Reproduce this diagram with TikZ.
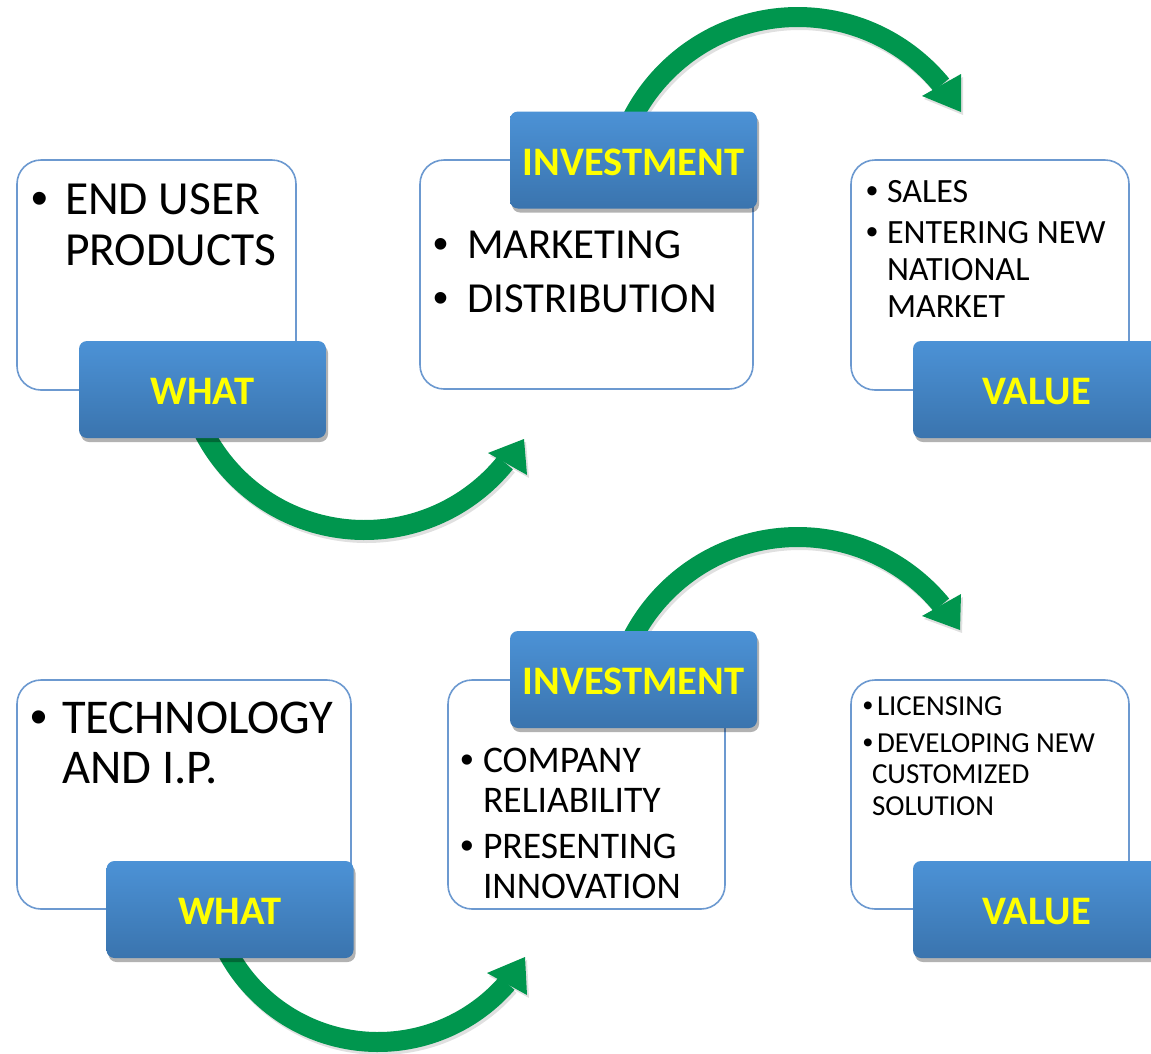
\documentclass[tikz,border=0pt]{standalone}
\usepackage{fontspec}
\setmainfont{Carlito}
\newfontfamily\bulletfont{Liberation Sans}
\usetikzlibrary{shadows}
\definecolor{boxline}{RGB}{108,153,208}
\definecolor{labtop}{RGB}{76,146,214}
\definecolor{labbot}{RGB}{58,116,174}
\definecolor{arrowgreen}{RGB}{0,150,78}
\definecolor{labtext}{RGB}{255,255,0}
\newcommand{\fsA}{\fontsize{47.5pt}{56pt}\selectfont}
\newcommand{\fsAA}{\fontsize{48.5pt}{56pt}\selectfont}
\newcommand{\fsB}{\fontsize{42.8pt}{50pt}\selectfont}
\newcommand{\fsC}{\fontsize{34pt}{40pt}\selectfont}
\newcommand{\fsD}{\fontsize{37.6pt}{44pt}\selectfont}
\newcommand{\fsE}{\fontsize{29pt}{35pt}\selectfont}
\begin{document}
\begin{tikzpicture}[x=1pt,y=-1pt,
  infobox/.style={draw=boxline, line width=1.6pt, fill=white, rounded corners=24pt,
    inner sep=0pt, outer sep=0pt},
  labelbox/.style={rounded corners=8pt, top color=labtop, bottom color=labbot,
    inner sep=0pt, outer sep=0pt, minimum width=247pt, minimum height=97pt, text=labtext,
    font=\fontsize{40.5pt}{48pt}\selectfont\bfseries, text height=30pt, text depth=0pt,
    drop shadow={shadow xshift=2pt, shadow yshift=-4pt, opacity=0.3, fill=black}},
  txt/.style={anchor=base west, inner sep=0pt, outer sep=0pt},
  bul/.style={anchor=base, inner sep=0pt, outer sep=0pt},
  band/.style={draw=arrowgreen, line width=20pt},
  bandshadow/.style={draw=black, opacity=0.12, line width=20pt},
  head/.style={fill=arrowgreen},
  headshadow/.style={fill=black, opacity=0.12}
]
\useasboundingbox (0,0) rectangle (1151,1053);
\fill[white] (0,0) rectangle (1151,1053);

% ---------- white info boxes ----------
\node[infobox, minimum width=279pt, minimum height=230pt] (w1) at (156.5,275) {};
\node[infobox, minimum width=333pt, minimum height=229pt] (w2) at (586.5,274.5) {};
\node[infobox, minimum width=278pt, minimum height=230pt] (w3) at (990,275) {};
\node[infobox, minimum width=334pt, minimum height=229pt] (w4) at (184,794.5) {};
\node[infobox, minimum width=277pt, minimum height=229pt] (w5) at (586.5,794.5) {};
\node[infobox, minimum width=278pt, minimum height=229pt] (w6) at (990,794.5) {};

% ---------- texts ----------
\node[bul, font=\fsA\bulletfont] (b1a) at (40,214) {•};
\node[txt, font=\fsA] (t1a) at (65,214) {END USER};
\node[txt, font=\fsA] (t1b) at (65,265) {PRODUCTS};

\node[bul, font=\fsB\bulletfont] (b2a) at (441,258) {•};
\node[txt, font=\fsB] (t2a) at (467,258) {MARKETING};
\node[bul, font=\fsB\bulletfont] (b2b) at (441,312) {•};
\node[txt, font=\fsB] (t2b) at (467,312) {DISTRIBUTION};

\node[bul, font=\fsC\bulletfont] (b3a) at (872,202) {•};
\node[txt, font=\fsC] (t3a) at (887,202) {SALES};
\node[bul, font=\fsC\bulletfont] (b3b) at (872,243) {•};
\node[txt, font=\fsC] (t3b) at (887,243) {ENTERING NEW};
\node[txt, font=\fsC] (t3c) at (887,280) {NATIONAL};
\node[txt, font=\fsC] (t3d) at (887,317) {MARKET};

\node[bul, font=\fsAA\bulletfont] (b4a) at (39,733) {•};
\node[txt, font=\fsAA] (t4a) at (62,733) {TECHNOLOGY};
\node[txt, font=\fsAA] (t4b) at (62,783) {AND I.P.};

\node[bul, font=\fsD\bulletfont] (b5a) at (467,772) {•};
\node[txt, font=\fsD] (t5a) at (483,772) {COMPANY};
\node[txt, font=\fsD] (t5b) at (483,812) {RELIABILITY};
\node[bul, font=\fsD\bulletfont] (b5b) at (467,858) {•};
\node[txt, font=\fsD] (t5c) at (483,858) {PRESENTING};
\node[txt, font=\fsD] (t5d) at (483,898) {INNOVATION};

\node[bul, font=\fsE\bulletfont] (b6a) at (868,715) {•};
\node[txt, font=\fsE] (t6a) at (877,715) {LICENSING};
\node[bul, font=\fsE\bulletfont] (b6b) at (868,752) {•};
\node[txt, font=\fsE] (t6b) at (877,752) {DEVELOPING NEW};
\node[txt, font=\fsE] (t6c) at (872,783) {CUSTOMIZED};
\node[txt, font=\fsE] (t6d) at (872,815) {SOLUTION};

% ---------- curved arrows ----------
\coordinate (c1) at (364.5,349);
\coordinate (c2) at (797.7,203);
\coordinate (c3) at (378,871);
\coordinate (c4) at (797.7,723);

\begin{scope}[shift={(2,3)}]
\draw[bandshadow] plot[domain=150:39, samples=90] ({364.5+181*cos(\x)},{349+181*sin(\x)});
\fill[headshadow] (488,453) -- (524,439) -- (527,475) -- cycle;
\draw[bandshadow] plot[domain=-150:-39.4, samples=90] ({797.7+186*cos(\x)},{203+186*sin(\x)});
\fill[headshadow] (922,96) -- (961,74) -- (961,112) -- cycle;
\draw[bandshadow] plot[domain=148:41, samples=90] ({378+171*cos(\x)},{871+171*sin(\x)});
\fill[headshadow] (487,973) -- (525,957) -- (527,995) -- cycle;
\draw[bandshadow] plot[domain=-150:-39.4, samples=90] ({797.7+186*cos(\x)},{723+186*sin(\x)});
\fill[headshadow] (922,616) -- (961,594) -- (960,630) -- cycle;
\end{scope}

\draw[band] plot[domain=156:39, samples=90] ({364.5+181*cos(\x)},{349+181*sin(\x)});
\fill[head] (488,453) -- (524,439) coordinate (tip1) -- (527,475) -- cycle;

\draw[band] plot[domain=-153:-39.4, samples=90] ({797.7+186*cos(\x)},{203+186*sin(\x)});
\fill[head] (922,96) -- (961,74) -- (961,112) coordinate (tip2) -- cycle;

\draw[band] plot[domain=154:41, samples=90] ({378+171*cos(\x)},{871+171*sin(\x)});
\fill[head] (487,973) -- (525,957) coordinate (tip3) -- (527,995) -- cycle;

\draw[band] plot[domain=-153:-39.4, samples=90] ({797.7+186*cos(\x)},{723+186*sin(\x)});
\fill[head] (922,616) -- (961,594) -- (960,630) coordinate (tip4) -- cycle;

% ---------- blue label boxes ----------
\node[labelbox] (l1) at (202.5,389.5) {WHAT};
\node[labelbox] (l2) at (633.5,160) {INVESTMENT};
\node[labelbox] (l3) at (1036.5,389.5) {VALUE};
\node[labelbox] (l4) at (230,909.5) {WHAT};
\node[labelbox] (l5) at (633.5,679.5) {INVESTMENT};
\node[labelbox] (l6) at (1036.5,909.5) {VALUE};
\end{tikzpicture}
\end{document}
